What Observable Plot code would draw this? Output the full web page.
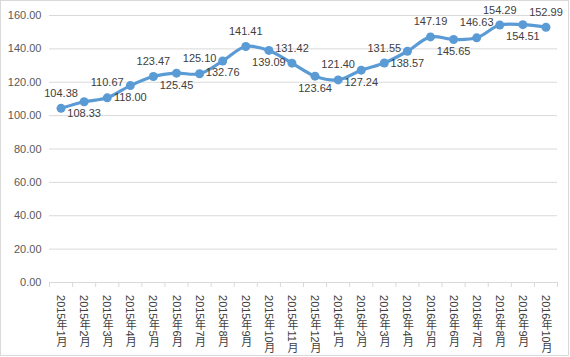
<!DOCTYPE html>
<html><head><meta charset="utf-8">
<script src="https://cdn.jsdelivr.net/npm/d3@7"></script>
<script src="https://cdn.jsdelivr.net/npm/@observablehq/plot@0.6"></script>
<style>body{margin:0;background:#fff}</style>
</head><body><div id="chart"></div>
<script>
const months = ["2015年1月","2015年2月","2015年3月","2015年4月","2015年5月","2015年6月","2015年7月","2015年8月","2015年9月","2015年10月","2015年11月","2015年12月","2016年1月","2016年2月","2016年3月","2016年4月","2016年5月","2016年6月","2016年7月","2016年8月","2016年9月","2016年10月"];
const values = [104.38,108.33,110.67,118.00,123.47,125.45,125.10,132.76,141.41,139.09,131.42,123.64,121.40,127.24,131.55,138.57,147.19,145.65,146.63,154.29,154.51,152.99];
const labelPlacement = ["above","below","above","below","above","below","above","below","above","below","above","below","above","below","above","below","above","below","above","above","below","above"];
const yTicks = [0,20,40,60,80,100,120,140,160];

const data = months.map((m,i)=>({i, m, v: values[i], pos: labelPlacement[i]}));
const blue = "#5b9bd5";
const font = "'Liberation Sans','Noto Sans CJK SC',sans-serif";

const chart = Plot.plot({
  width: 570, height: 357,
  marginLeft: 49, marginRight: 13, marginTop: 15, marginBottom: 75,
  style: {fontSize: "11px", fontFamily: font, background: "#fff"},
  x: {type: "linear", domain: [0, months.length], axis: null},
  y: {domain: [0, 160], axis: null},
  marks: [
    Plot.ruleY(yTicks, {stroke: "#d9d9d9", strokeWidth: 1}),
    Plot.axisY({ticks: yTicks, tickFormat: d => d.toFixed(2), tickSize: 0, tickPadding: 8, color: "#595959", label: null}),
    Plot.axisX({ticks: d3.range(0, months.length + 1), tickFormat: () => "", tickSize: 5, stroke: "#d9d9d9", label: null}),
    Plot.text(data, {x: d => d.i + 0.5, y: 0, text: "m", fill: "#404040", textAnchor: "start", ariaDescription: "xlabels"}),
    Plot.line(data, {x: d => d.i + 0.5, y: "v", stroke: blue, strokeWidth: 3.2, curve: "catmull-rom"}),
    Plot.dot(data, {x: d => d.i + 0.5, y: "v", r: 4.5, fill: blue}),
    Plot.text(data.filter(d => d.pos === "above"), {x: d => d.i + 0.5, y: "v", text: d => d.v.toFixed(2), dy: -15, fill: "#404040"}),
    Plot.text(data.filter(d => d.pos === "below"), {x: d => d.i + 0.5, y: "v", text: d => d.v.toFixed(2), dy: 12, fill: "#404040"})
  ]
});
document.getElementById("chart").appendChild(chart);

// vertical (CJK-style) writing for the category labels
d3.select(chart).selectAll('g[aria-description="xlabels"] text')
  .attr("dy", null)
  .style("writing-mode", "vertical-rl")
  .attr("transform", function(){ 
    const t = d3.select(this).attr("transform") || "";
    return t + " translate(0,9)";
  });

// outer chart border
d3.select(chart).append("rect")
  .attr("x", 0.5).attr("y", 0.5).attr("width", 568).attr("height", 355)
  .attr("fill", "none").attr("stroke", "#d9d9d9");
</script>
</body></html>
